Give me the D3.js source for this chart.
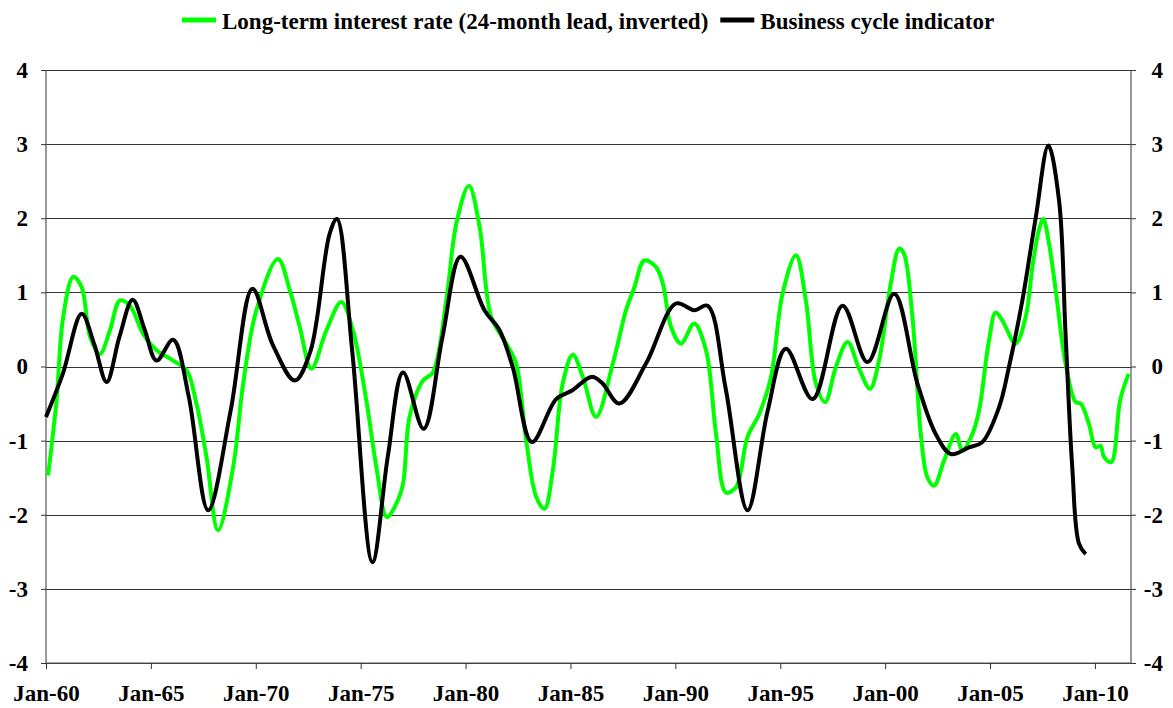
<!DOCTYPE html>
<html>
<head>
<meta charset="utf-8">
<script src="https://cdn.jsdelivr.net/npm/d3@7"></script>
<style>
  body { margin: 0; background: #fff; }
  text { font-family: "Liberation Serif", "Times New Roman", serif; font-weight: bold; }
</style>
</head>
<body>
<script>
var width = 1173,
    height = 708;

// decimal years and values
var rateYears = [1960.1, 1960.5, 1960.82, 1961.3, 1961.7, 1962.1, 1962.57, 1963.05, 1963.52, 1964.0,
  1964.63, 1965.27, 1966.06, 1966.7, 1967.17, 1967.65, 1968.2, 1968.92, 1969.4, 1970.03,
  1971.06, 1971.62, 1972.1, 1972.65, 1973.37, 1974.08, 1974.63, 1975.27, 1975.75, 1976.25,
  1976.7, 1977.02, 1977.33, 1977.97, 1978.44, 1979.08, 1979.56, 1980.16, 1980.67, 1981.22,
  1981.94, 1982.41, 1982.89, 1983.37, 1983.76, 1984.16, 1984.63, 1985.11, 1985.59, 1986.22,
  1987.02, 1987.65, 1988.05, 1988.52, 1989.08, 1989.4, 1989.8, 1990.27, 1990.9, 1991.46,
  1991.94, 1992.41, 1992.89, 1993.44, 1994.0, 1994.56, 1995.11, 1995.75, 1996.22, 1996.7,
  1997.14, 1997.65, 1998.21, 1998.76, 1999.28, 1999.71, 2000.27, 2000.67, 2000.9, 2001.3,
  2001.7, 2002.01, 2002.33, 2002.81, 2003.37, 2003.68, 2004.16, 2004.48, 2004.95, 2005.27,
  2005.59, 2006.22, 2006.7, 2007.02, 2007.33, 2007.54, 2007.81, 2008.13, 2008.6, 2009.08,
  2009.32, 2009.71, 2010.03, 2010.27, 2010.43, 2010.78, 2011.2, 2011.6];
var rateValues = [-1.47, -0.46, 0.67, 1.21, 1.07, 0.40, 0.17, 0.49, 0.89, 0.82,
  0.44, 0.22, 0.08, -0.05, -0.50, -1.22, -2.21, -1.36, -0.23, 0.76,
  1.45, 1.03, 0.53, -0.03, 0.49, 0.87, 0.49, -0.46, -1.36, -2.03,
  -1.85, -1.58, -0.68, -0.19, -0.08, 0.89, 1.93, 2.44, 1.88, 0.67,
  0.31, 0.04, -1.00, -1.76, -1.92, -1.40, -0.23, 0.16, -0.14, -0.68,
  0.04, 0.76, 1.07, 1.43, 1.34, 1.12, 0.53, 0.31, 0.58, 0.22,
  -0.91, -1.70, -1.63, -0.95, -0.64, -0.14, 0.98, 1.50, 0.89, -0.23,
  -0.48, -0.01, 0.33, -0.03, -0.30, 0.08, 1.12, 1.59, 1.52, 0.67,
  -0.91, -1.49, -1.61, -1.27, -0.91, -1.13, -0.91, -0.59, 0.35, 0.73,
  0.62, 0.31, 0.67, 1.34, 1.84, 1.99, 1.66, 1.03, 0.04, -0.48,
  -0.50, -0.77, -1.09, -1.07, -1.22, -1.29, -0.46, -0.10];

var cycleYears = [1960.0, 1960.8, 1961.7, 1962.3, 1962.89, 1963.5, 1964.13, 1964.7, 1965.27, 1966.06,
  1966.8, 1967.73, 1968.8, 1969.84, 1970.8, 1971.86, 1972.6, 1973.52, 1973.87, 1974.6,
  1975.56, 1976.3, 1977.02, 1978.0, 1978.9, 1979.76, 1980.9, 1981.62, 1982.25, 1983.16,
  1984.32, 1985.1, 1986.0, 1986.5, 1987.33, 1988.6, 1990.03, 1990.9, 1991.54, 1992.4,
  1993.44, 1994.4, 1995.27, 1996.54, 1997.97, 1999.16, 2000.43, 2001.54, 2002.41, 2003.13,
  2004.0, 2004.63, 2005.43, 2005.9, 2006.54, 2007.18, 2007.78, 2008.29, 2008.6, 2008.92,
  2009.24, 2009.56];
var cycleValues = [-0.68, -0.10, 0.71, 0.30, -0.21, 0.40, 0.90, 0.50, 0.08, 0.36,
  -0.40, -1.94, -0.60, 1.05, 0.30, -0.19, 0.20, 1.79, 1.99, 0.20,
  -2.64, -1.20, -0.08, -0.84, 0.40, 1.48, 0.76, 0.49, -0.01, -1.02,
  -0.44, -0.32, -0.14, -0.22, -0.50, 0.04, 0.85, 0.76, 0.82, -0.30,
  -1.94, -0.60, 0.24, -0.44, 0.82, 0.06, 0.98, -0.23, -0.91, -1.18,
  -1.09, -1.02, -0.55, -0.01, 0.89, 2.01, 2.98, 2.24, 0.44, -1.36,
  -2.39, -2.53];

var xTickYears = [1960, 1965, 1970, 1975, 1980, 1985, 1990, 1995, 2000, 2005, 2010];
var xTickLabels = ["Jan-60", "Jan-65", "Jan-70", "Jan-75", "Jan-80", "Jan-85", "Jan-90", "Jan-95", "Jan-00", "Jan-05", "Jan-10"];
var yTicks = [-4, -3, -2, -1, 0, 1, 2, 3, 4];

var seriesNames = ["Long-term interest rate (24-month lead, inverted)", "Business cycle indicator"];
var seriesColors = ["#00ff00", "#000000"];

var margin = {top: 70, right: 42, bottom: 45, left: 46};
var plotW = width - margin.left - margin.right,
    plotH = height - margin.top - margin.bottom;

var x = d3.scaleLinear()
    .domain([1960, 2011.72])
    .range([0, plotW]);

var y = d3.scaleLinear()
    .domain([-4, 4])
    .range([plotH, 0]);

var svg = d3.select("body").append("svg")
    .attr("width", width)
    .attr("height", height);

var g = svg.append("g")
    .attr("transform", "translate(" + margin.left + "," + margin.top + ")");

// horizontal gridlines
g.selectAll("line.grid")
    .data(yTicks)
  .enter().append("line")
    .attr("class", "grid")
    .attr("x1", 0)
    .attr("x2", plotW)
    .attr("y1", function(d) { return Math.round(y(d)) + 0.5; })
    .attr("y2", function(d) { return Math.round(y(d)) + 0.5; })
    .attr("stroke", "#333")
    .attr("stroke-width", 1);

function plain(d) { return String(d); }

// left axis
var yLeft = g.append("g")
    .call(d3.axisLeft(y).tickValues(yTicks).tickSize(5).tickPadding(13).tickFormat(plain));
// right axis
var yRight = g.append("g")
    .attr("transform", "translate(" + plotW + ",0)")
    .call(d3.axisRight(y).tickValues(yTicks).tickSize(5).tickPadding(10).tickFormat(plain));
yRight.selectAll("text").attr("text-anchor", "end").attr("x", 32);

// bottom axis
var xAxis = g.append("g")
    .attr("transform", "translate(0," + plotH + ")")
    .call(d3.axisBottom(x).tickValues(xTickYears).tickSize(6).tickPadding(16)
      .tickFormat(function(d, i) { return xTickLabels[i]; }));

[yLeft, yRight, xAxis].forEach(function(a) {
  a.select(".domain").attr("stroke", "#555").attr("stroke-width", 1.2);
  a.selectAll(".tick line").attr("stroke", "#333");
  a.selectAll("text")
    .attr("fill", "#000")
    .style("font-size", "23px")
    .style("font-family", "'Liberation Serif', serif")
    .style("font-weight", "bold");
});
yLeft.select(".domain").attr("d", "M0," + plotH + "V0");
yRight.select(".domain").attr("d", "M0," + plotH + "V0");
xAxis.select(".domain").attr("d", "M0,0H" + plotW);

var line = d3.line()
    .curve(d3.curveCatmullRom.alpha(0.5))
    .x(function(d) { return x(d[0]); })
    .y(function(d) { return y(d[1]); });

var rateData = rateYears.map(function(t, i) { return [t, rateValues[i]]; });
var cycleData = cycleYears.map(function(t, i) { return [t, cycleValues[i]]; });

g.append("path")
    .datum(rateData)
    .attr("d", line)
    .attr("fill", "none")
    .attr("stroke", seriesColors[0])
    .attr("stroke-width", 4)
    .attr("stroke-linejoin", "round");

g.append("path")
    .datum(cycleData)
    .attr("d", line)
    .attr("fill", "none")
    .attr("stroke", seriesColors[1])
    .attr("stroke-width", 4)
    .attr("stroke-linejoin", "round");

// legend
var legend = svg.append("g").attr("transform", "translate(182,20)");
var offset = 0;
seriesNames.forEach(function(name, i) {
  var item = legend.append("g").attr("transform", "translate(" + offset + ",0)");
  item.append("line")
      .attr("x1", 0).attr("x2", 34)
      .attr("y1", 0).attr("y2", 0)
      .attr("stroke", seriesColors[i])
      .attr("stroke-width", 5);
  var t = item.append("text")
      .attr("x", 40)
      .attr("y", 9)
      .style("font-size", "23px")
      .text(name);
  offset += 40 + t.node().getComputedTextLength() + 12;
});
</script>
</body>
</html>
